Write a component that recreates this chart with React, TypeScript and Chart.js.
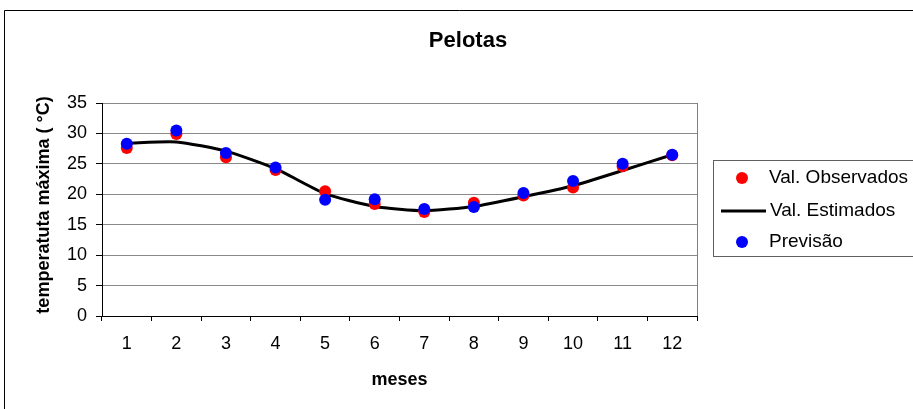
import React, { useEffect, useRef } from "react";
import { Chart, registerables } from "chart.js";

Chart.register(...registerables);

const months = ["1", "2", "3", "4", "5", "6", "7", "8", "9", "10", "11", "12"];
const observados = [27.6, 29.9, 26.1, 24.0, 20.5, 18.4, 17.1, 18.6, 19.8, 21.1, 24.6, 26.4];
const estimados = [28.4, 28.6, 27.1, 24.2, 20.1, 18.0, 17.3, 18.0, 19.6, 21.4, 23.9, 26.5];
const previsao = [28.3, 30.5, 26.8, 24.4, 19.1, 19.2, 17.6, 17.9, 20.2, 22.2, 25.0, 26.5];

const chartTitle = "Pelotas";
const xTitle = "meses";
const yTitle = "temperatuta máxima ( °C)";
const legendLabels = ["Val. Observados", "Val. Estimados", "Previsão"];

const FONT = "Arial, 'Liberation Sans', sans-serif";

const decorPlugin = {
  id: "decor",
  beforeDatasetsDraw(chart: any) {
    const { ctx, chartArea } = chart;
    ctx.save();
    ctx.strokeStyle = "#808080";
    ctx.lineWidth = 1;
    ctx.beginPath();
    ctx.moveTo(Math.round(chartArea.right) + 0.5, chartArea.top);
    ctx.lineTo(Math.round(chartArea.right) + 0.5, chartArea.bottom);
    ctx.stroke();
    ctx.restore();
  },
  afterDraw(chart: any) {
    const { ctx, chartArea } = chart;
    ctx.save();
    // outer border
    ctx.strokeStyle = "#000";
    ctx.lineWidth = 1;
    ctx.beginPath();
    ctx.moveTo(4.5, 420);
    ctx.lineTo(4.5, 10.5);
    ctx.lineTo(930, 10.5);
    ctx.stroke();

    // title
    ctx.fillStyle = "#000";
    ctx.textAlign = "center";
    ctx.textBaseline = "middle";
    ctx.font = `bold 22px ${FONT}`;
    ctx.fillText(chartTitle, 468, 41);

    // axis titles
    ctx.font = `bold 18px ${FONT}`;
    ctx.fillText(xTitle, (chartArea.left + chartArea.right) / 2, 380);
    ctx.save();
    ctx.translate(44, 205);
    ctx.rotate(-Math.PI / 2);
    ctx.fillText(yTitle, 0, 0);
    ctx.restore();

    // legend
    ctx.strokeStyle = "#606060";
    ctx.lineWidth = 1;
    ctx.strokeRect(713.5, 160.5, 250, 96);
    ctx.font = `19px ${FONT}`;
    ctx.textAlign = "left";
    ctx.fillStyle = "#000";
    ctx.fillText(legendLabels[0], 769, 178);
    ctx.fillText(legendLabels[1], 770, 211);
    ctx.fillText(legendLabels[2], 769, 242);
    ctx.fillStyle = "#ff0000";
    ctx.beginPath();
    ctx.arc(742, 178, 6, 0, Math.PI * 2);
    ctx.fill();
    ctx.fillStyle = "#0000ff";
    ctx.beginPath();
    ctx.arc(742, 242, 6, 0, Math.PI * 2);
    ctx.fill();
    ctx.strokeStyle = "#000";
    ctx.lineWidth = 3;
    ctx.beginPath();
    ctx.moveTo(721, 211);
    ctx.lineTo(766, 211);
    ctx.stroke();
    ctx.restore();
  },
};

export default function App() {
  const ref = useRef<HTMLCanvasElement | null>(null);

  useEffect(() => {
    if (!ref.current) return;
    const chart = new Chart(ref.current, {
      type: "line",
      data: {
        labels: months,
        datasets: [
          {
            label: legendLabels[2],
            data: previsao,
            showLine: false,
            pointRadius: 6,
            pointHoverRadius: 6,
            pointBackgroundColor: "#0000ff",
            pointBorderWidth: 0,
            borderColor: "#0000ff",
            backgroundColor: "#0000ff",
            order: 0,
          },
          {
            label: legendLabels[0],
            data: observados,
            showLine: false,
            pointRadius: 6,
            pointHoverRadius: 6,
            pointBackgroundColor: "#ff0000",
            pointBorderWidth: 0,
            borderColor: "#ff0000",
            backgroundColor: "#ff0000",
            order: 1,
          },
          {
            label: legendLabels[1],
            data: estimados,
            borderColor: "#000000",
            borderWidth: 3,
            pointRadius: 0,
            tension: 0.2,
            fill: false,
            order: 2,
          },
        ],
      },
      options: {
        animation: false,
        responsive: false,
        maintainAspectRatio: false,
        layout: { padding: { left: 0, top: 103, right: 216, bottom: 0 } },
        plugins: {
          legend: { display: false },
          title: { display: false },
          tooltip: { enabled: false },
        },
        scales: {
          x: {
            offset: true,
            afterFit: (s: any) => {
              s.height = 93;
            },
            grid: {
              offset: true,
              drawOnChartArea: false,
              drawTicks: true,
              tickLength: 5,
              tickColor: "#000",
            },
            border: { display: true, color: "#000", width: 1 },
            ticks: {
              color: "#000",
              font: { family: FONT, size: 18 },
              padding: 12,
              maxRotation: 0,
              autoSkip: false,
            },
          },
          y: {
            min: 0,
            max: 35,
            afterFit: (s: any) => {
              s.width = 102;
            },
            grid: {
              color: "#8a8a8a",
              drawTicks: true,
              tickLength: 6,
              tickColor: "#000",
            },
            border: { display: true, color: "#000", width: 1 },
            ticks: {
              stepSize: 5,
              color: "#000",
              font: { family: FONT, size: 18 },
              padding: 9,
            },
          },
        },
      },
      plugins: [decorPlugin],
    });
    return () => chart.destroy();
  }, []);

  return (
    <div style={{ position: "absolute", left: 0, top: 0, width: 913, height: 409, background: "#fff" }}>
      <canvas ref={ref} width={913} height={409} style={{ width: 913, height: 409, display: "block" }} />
    </div>
  );
}
